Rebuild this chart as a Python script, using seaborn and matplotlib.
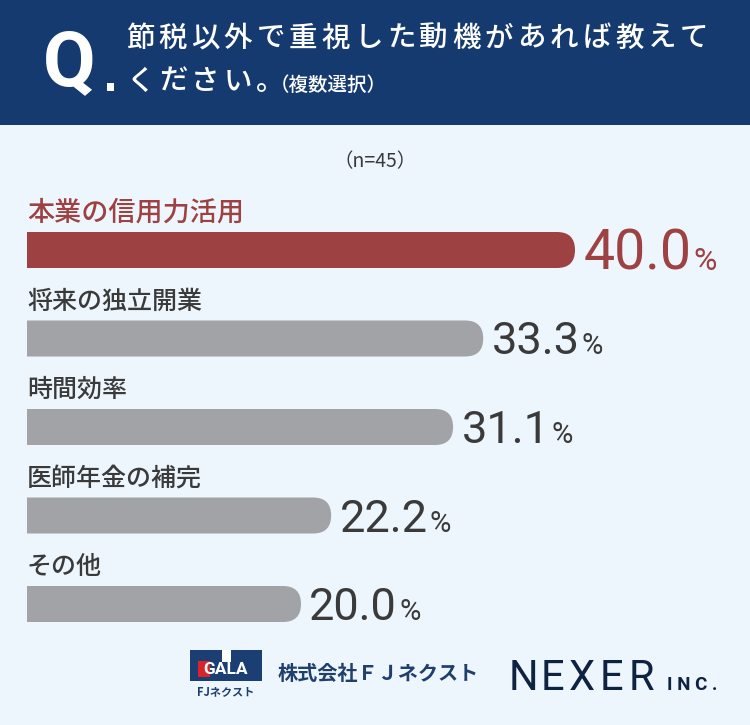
import numpy as np
import pandas as pd
import matplotlib
matplotlib.use("Agg")
import matplotlib.pyplot as plt
from matplotlib.patches import Rectangle, FancyBboxPatch
import seaborn as sns

# DATA
categories = ['本業の信用力活用', '将来の独立開業', '時間効率', '医師年金の補完', 'その他']
values = [40.0, 33.3, 31.1, 22.2, 20.0]
title_line1 = '節税以外で重視した動機があれば教えて'
title_line2 = 'ください。'
title_note = '（複数選択）'
n_label = '（n=45）'

sns.set_theme(style="white")
plt.rcParams['font.family'] = ['Noto Sans CJK JP', 'DejaVu Sans']

# colours
navy = '#153a6f'
bg_col = '#eef6fd'
red = '#9d4142'
gray = '#a2a3a7'
txt = '#3a3a3a'

W, H = 750, 725
fig = plt.figure(figsize=(W / 100, H / 100), dpi=100, facecolor=bg_col)

# canvas axes in pixel units for header / footer
bg = fig.add_axes([0, 0, 1, 1], zorder=0)
bg.set_xlim(0, W)
bg.set_ylim(H, 0)
bg.set_axis_off()


def tracked(ax, x, y, s, pitch, **kw):
    # full-width text drawn with a fixed character pitch (letter spacing)
    for k, ch in enumerate(s):
        ax.text(x + k * pitch, y, ch, **kw)


bg.add_patch(Rectangle((0, 0), W, 125, color=navy, lw=0))
bg.text(43, 85, 'Q', fontsize=55, family='Roboto', weight='bold', color='white', va='baseline')
bg.add_patch(Rectangle((107, 83), 7, 8, color='white', lw=0))
tracked(bg, 126, 38, title_line1, 32.6, fontsize=20.5, weight='medium', color='white', va='center')
tracked(bg, 126, 81, title_line2, 32.6, fontsize=20.5, weight='medium', color='white', va='center')
bg.text(270, 85, title_note, fontsize=14, weight='medium', color='white', va='center')
bg.text(375, 162, n_label, fontsize=14, color=txt, ha='center', va='center')

# footer logos
bg.add_patch(Rectangle((190, 650), 72, 31, color='#1c3f73', lw=0))
bg.add_patch(Rectangle((222, 650), 9, 12, color='white', lw=0))
bg.add_patch(Rectangle((198, 661), 12, 16, color='#d8252c', lw=0))
bg.text(226, 669, 'GALA', fontsize=12.5, family='Roboto', weight='bold', color='white',
        ha='center', va='center')
bg.text(226, 692, 'FJネクスト', fontsize=8, weight='bold', color='#1c3f73', ha='center', va='center')
bg.text(278, 673, '株式会社ＦＪネクスト', fontsize=14.5, weight='bold', color='#1f3f6d', va='center')
for k, ch in enumerate('NEXER'):
    bg.text(523 + k * 29.5, 690, ch, fontsize=30, family='Roboto', color='#0e2342',
            ha='center', va='baseline')
bg.text(667, 690, 'I N C .', fontsize=13.5, family='Roboto', weight='bold', color='#0e2342',
        va='baseline')

# bar chart axes: x=0 at px 27, 40 at px 575; bar pitch 88.5 px
x0_px, xw_px = 27, 548
xmax = 40
pitch = 88.5
first_c = 250
top_px = first_c - pitch
bot_px = first_c + pitch * 4.5
ax = fig.add_axes([x0_px / W, 1 - bot_px / H, xw_px / W, (bot_px - top_px) / H], zorder=1)
ax.patch.set_alpha(0)

bar_colors = [red] + [gray] * (len(categories) - 1)
df = pd.DataFrame({'cat': categories, 'val': values})
bar_h = 36 / pitch
sns.barplot(data=df, x='val', y='cat', hue='cat', palette=bar_colors, legend=False,
            orient='h', width=bar_h, saturation=1, ax=ax)
ax.set_xlim(0, xmax)
ax.set_ylim(4.5, -1)
ax.set_axis_off()

# round the right end of every bar, clip the left end square
px_x = xw_px / xmax
r = 18 / px_x
aspect = px_x / pitch
for p in list(ax.patches):
    x, y, w, h = p.get_x(), p.get_y(), p.get_width(), p.get_height()
    c = p.get_facecolor()
    p.remove()
    fb = FancyBboxPatch((x - 2 * r, y), w + 2 * r, h, boxstyle=f"round,pad=0,rounding_size={r}",
                        mutation_aspect=aspect, fc=c, ec='none', lw=0)
    ax.add_patch(fb)
    fb.set_clip_path(Rectangle((x, y - 0.1), w + 1, h + 0.2, transform=ax.transData))

# labels
renderer = fig.canvas.get_renderer()
for i, (cat, v) in enumerate(zip(categories, values)):
    hl = i == 0
    col = red if hl else txt
    ax.text(0, i - 37 / pitch, cat, fontsize=19.5 if hl else 18, weight='medium', color=col,
            va='center', ha='left', clip_on=False)
    num_fs = 40 if hl else 32.5
    digit_h = 39 if hl else 32
    yb = i + (digit_h / 2) / pitch
    t = ax.annotate(f'{v:.1f}', xy=(v, yb), xytext=(6, 0), textcoords='offset points',
                    fontsize=num_fs, family='Roboto', color=col, va='baseline', ha='left',
                    annotation_clip=False)
    bb = t.get_window_extent(renderer)
    xe = ax.transData.inverted().transform((bb.x1, 0))[0]
    ax.annotate('%', xy=(xe, yb), xytext=(1.5, 0), textcoords='offset points',
                fontsize=23 if hl else 21, family='Roboto', color=col, va='baseline', ha='left',
                annotation_clip=False)

fig.savefig('out.png', dpi=100, facecolor=bg_col)
